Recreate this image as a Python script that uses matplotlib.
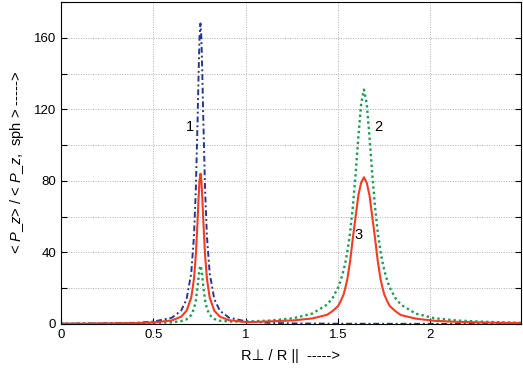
import numpy as np
import matplotlib
matplotlib.use("Agg")
import matplotlib.pyplot as plt

plt.rcParams['font.family'] = ['Liberation Sans', 'DejaVu Sans']
plt.rcParams['mathtext.fontset'] = 'custom'
plt.rcParams['mathtext.rm'] = 'Liberation Sans'
plt.rcParams['mathtext.it'] = 'Liberation Sans:italic'

# R_perp / R_par
x = [0, 0.2, 0.4, 0.5, 0.6, 0.65, 0.68, 0.705, 0.72, 0.73, 0.74, 0.745, 0.75,
     0.755, 0.76, 0.765, 0.77, 0.78, 0.79, 0.805, 0.83, 0.86, 0.91, 1.01,
     1.14, 1.26, 1.36, 1.44, 1.47, 1.5, 1.515, 1.53, 1.54, 1.55, 1.565, 1.58,
     1.595, 1.61, 1.625, 1.64, 1.655, 1.67, 1.685, 1.7, 1.715, 1.73, 1.74,
     1.75, 1.765, 1.78, 1.81, 1.84, 1.92, 2.02, 2.14, 2.3, 2.49]

curve1 = [0.15, 0.28, 0.67, 1.3, 3.5, 7.4, 13.9, 28.3, 49.1, 75.2, 116.3, 140.3, 160.1,
          168, 160.1, 140.3, 116.3, 75.2, 49.1, 28.3, 13.9, 7.4, 3.5, 1.3,
          0.57, 0.33, 0.23, 0.18, 0.16, 0.15, 0.15, 0.14, 0.14, 0.14, 0.13, 0.13,
          0.13, 0.12, 0.12, 0.12, 0.12, 0.11, 0.11, 0.11, 0.11, 0.1, 0.1,
          0.1, 0.1, 0.1, 0.09, 0.09, 0.08, 0.08, 0.07, 0.06, 0.05]

curve2 = [0.2, 0.27, 0.41, 0.56, 0.95, 1.6, 2.6, 4.95, 8.5, 13.1, 21.1, 26.2, 30.7,
          32.6, 30.7, 26.2, 21.2, 13.2, 8.6, 5.0, 2.8, 1.85, 1.37, 1.38,
          1.96, 3.25, 5.8, 10.8, 14.5, 20.3, 24.5, 30.2, 34.7, 40.3, 51.1, 65.5,
          83.8, 104.8, 123.3, 131, 123.3, 104.8, 83.8, 65.5, 51.1, 40.3, 34.7,
          30.2, 24.5, 20.3, 14.5, 10.8, 5.8, 3.25, 1.96, 1.2, 0.65]

curve3 = [0.1, 0.25, 0.45, 0.85, 2.0, 4.05, 7.4, 14.7, 25.3, 38.5, 58.9, 70.6, 80.2,
          84, 80.2, 70.6, 58.9, 38.6, 25.4, 14.8, 7.4, 4.1, 2.1, 1.0,
          1.5, 2.0, 3.1, 5.1, 7.2, 10, 13, 16.5, 20.5, 25, 35, 48,
          60, 72, 79, 82, 79, 72, 60, 48, 35, 25, 20.5,
          16.5, 13, 10, 7.2, 5, 3, 1.8, 1.2, 0.8, 0.5]

labels = ['1', '2', '3']
label_pos = [(0.70, 110), (1.72, 110), (1.61, 50)]

fig = plt.figure(figsize=(5.23, 3.69), dpi=100)
ax = fig.add_axes([0.1166, 0.122, 0.8795, 0.8726])

ax.plot(x, curve2, color='#1e9a55', linestyle=(0, (1, 1.3)), linewidth=1.7)
ax.plot(x, curve1, color='#27388a', linestyle=(0, (3, 1.5, 1, 1.5)), linewidth=1.4)
ax.plot(x, curve3, color='#f23c24', linestyle='-', linewidth=1.5)

for t, (tx, ty) in zip(labels, label_pos):
    ax.text(tx, ty, t, fontsize=10.5, ha='center', va='center')

ax.set_xlim(0, 2.49)
ax.set_ylim(0, 180)
ax.set_xticks([0, 0.5, 1, 1.5, 2])
ax.set_xticklabels(['0', '0.5', '1', '1.5', '2'])
yt = np.arange(0, 181, 20)
ax.set_yticks(yt)
ax.set_yticklabels([str(v) if v % 40 == 0 else '' for v in yt])
ax.tick_params(direction='in', labelsize=9.5, top=False, right=True, length=4)
ax.grid(True, linestyle=(0, (1, 1.5)), color='#b0b0b0', linewidth=0.7)

ax.set_xlabel(r'R⊥ / R ||  ----->', fontsize=10.5, labelpad=6)
ax.set_ylabel(r'< $\mathit{P}$_$\mathit{z}$> / < $\mathit{P}$_$\mathit{z}$,  sph > ----->',
              fontsize=10.5, labelpad=6)

fig.savefig('out.png', dpi=100)
